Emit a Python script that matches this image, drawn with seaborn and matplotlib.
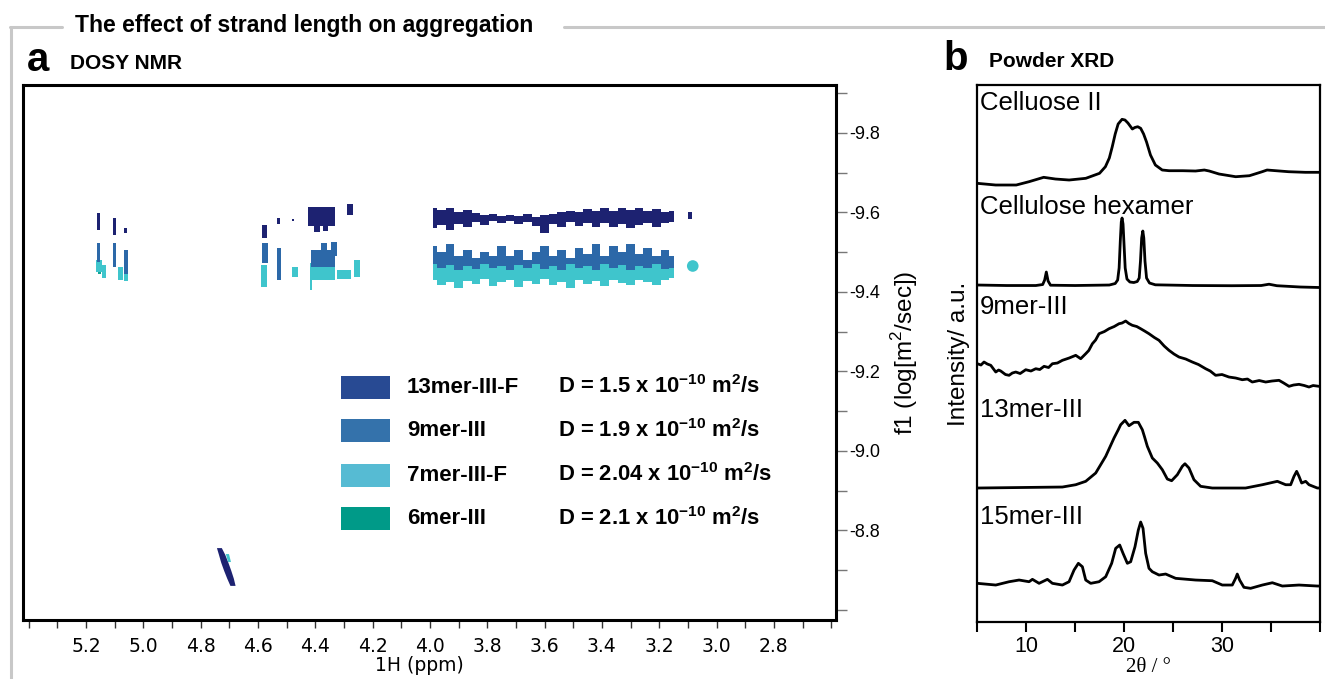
import numpy as np
import pandas as pd
import seaborn as sns
import matplotlib.pyplot as plt
from matplotlib.lines import Line2D
from matplotlib.patches import Rectangle

sns.set_style('white')
plt.rcParams['font.family'] = ['Liberation Sans', 'DejaVu Sans']
plt.rcParams['mathtext.fontset'] = 'custom'
plt.rcParams['mathtext.rm'] = 'Liberation Sans'
plt.rcParams['mathtext.bf'] = 'Liberation Sans:bold'
plt.rcParams['text.color'] = 'black'
plt.rcParams['axes.labelcolor'] = 'black'
plt.rcParams['xtick.color'] = 'black'
plt.rcParams['ytick.color'] = 'black'

# ---------------- DOSY data (ppm, log D) ----------------
compounds = ['13mer-III-F', '9mer-III', '7mer-III-F', '6mer-III']
d_labels = ['D = 1.5 x 10$^{\\mathbf{-10}}$ m$^{\\mathbf{2}}$/s',
            'D = 1.9 x 10$^{\\mathbf{-10}}$ m$^{\\mathbf{2}}$/s',
            'D = 2.04 x 10$^{\\mathbf{-10}}$ m$^{\\mathbf{2}}$/s',
            'D = 2.1 x 10$^{\\mathbf{-10}}$ m$^{\\mathbf{2}}$/s']

# small spots: (ppm left, ppm right, logD top, logD bottom)
spots_13 = [(5.162, 5.150, -9.598, -9.556), (5.106, 5.094, -9.585, -9.543),
            (5.067, 5.057, -9.561, -9.548), (4.586, 4.569, -9.568, -9.535),
            (4.535, 4.523, -9.586, -9.571), (4.482, 4.476, -9.583, -9.577),
            (4.426, 4.331, -9.614, -9.565), (4.405, 4.385, -9.570, -9.550),
            (4.372, 4.355, -9.570, -9.552), (4.288, 4.268, -9.620, -9.594),
            (3.100, 3.085, -9.600, -9.583)]
spots_9 = [(5.162, 5.150, -9.523, -9.475), (5.106, 5.094, -9.523, -9.462),
           (5.067, 5.055, -9.505, -9.445), (4.586, 4.566, -9.523, -9.473),
           (4.535, 4.521, -9.510, -9.430), (4.415, 4.330, -9.505, -9.462),
           (4.380, 4.360, -9.523, -9.500), (4.345, 4.325, -9.525, -9.490)]
spots_7 = [(5.165, 5.145, -9.480, -9.450), (5.145, 5.130, -9.468, -9.435),
           (5.090, 5.072, -9.462, -9.430), (5.067, 5.055, -9.473, -9.428),
           (4.590, 4.569, -9.468, -9.412), (4.535, 4.521, -9.482, -9.432),
           (4.480, 4.460, -9.462, -9.437), (4.420, 4.330, -9.473, -9.430),
           (4.325, 4.276, -9.455, -9.433), (4.265, 4.245, -9.480, -9.437),
           (4.420, 4.410, -9.430, -9.405)]
spots_6 = [(5.160, 5.148, -9.458, -9.446), (4.312, 4.290, -9.450, -9.440)]

# main band 4.0 - 3.1 ppm
band_ppm = [3.99, 3.96, 3.93, 3.90, 3.87, 3.84, 3.81, 3.78, 3.75, 3.72, 3.69, 3.66,
            3.63, 3.60, 3.57, 3.54, 3.51, 3.48, 3.45, 3.42, 3.39, 3.36, 3.33, 3.30,
            3.27, 3.24, 3.21, 3.18, 3.15]
top_13 = [-9.612, -9.605, -9.610, -9.600, -9.606, -9.598, -9.592, -9.596, -9.590, -9.594,
          -9.590, -9.596, -9.588, -9.592, -9.596, -9.600, -9.604, -9.600, -9.608, -9.602,
          -9.610, -9.604, -9.612, -9.606, -9.610, -9.603, -9.608, -9.600, -9.604]
bot_13 = [-9.560, -9.568, -9.556, -9.570, -9.562, -9.575, -9.568, -9.578, -9.572, -9.578,
          -9.570, -9.576, -9.566, -9.548, -9.570, -9.562, -9.575, -9.566, -9.572, -9.562,
          -9.574, -9.564, -9.570, -9.560, -9.568, -9.572, -9.562, -9.572, -9.575]
top_9 = [-9.515, -9.500, -9.520, -9.490, -9.505, -9.485, -9.500, -9.490, -9.515, -9.490,
         -9.505, -9.480, -9.500, -9.515, -9.490, -9.505, -9.485, -9.510, -9.495, -9.520,
         -9.490, -9.515, -9.500, -9.520, -9.495, -9.510, -9.490, -9.505, -9.490]
bot_9 = [-9.470, -9.460, -9.468, -9.455, -9.465, -9.458, -9.470, -9.460, -9.466, -9.455,
         -9.468, -9.460, -9.470, -9.458, -9.466, -9.455, -9.470, -9.460, -9.465, -9.455,
         -9.470, -9.460, -9.468, -9.455, -9.465, -9.460, -9.470, -9.458, -9.460]
top_7 = [-9.478, -9.470, -9.482, -9.468, -9.476, -9.470, -9.480, -9.466, -9.478, -9.470,
         -9.482, -9.468, -9.476, -9.470, -9.480, -9.466, -9.478, -9.470, -9.482, -9.468,
         -9.476, -9.470, -9.480, -9.466, -9.478, -9.470, -9.482, -9.468, -9.474]
bot_7 = [-9.430, -9.418, -9.425, -9.410, -9.428, -9.420, -9.432, -9.415, -9.425, -9.430,
         -9.412, -9.428, -9.420, -9.432, -9.418, -9.426, -9.410, -9.430, -9.420, -9.428,
         -9.415, -9.430, -9.422, -9.418, -9.430, -9.424, -9.416, -9.430, -9.435]
dot_7 = (3.083, -9.465)

# water signal near 4.7 ppm
water_D = [-8.757, -8.740, -8.720, -8.700, -8.680, -8.662]
water_left = [4.745, 4.738, 4.730, 4.720, 4.709, 4.698]
water_right = [4.728, 4.716, 4.705, 4.695, 4.686, 4.680]
water7_D = [-8.742, -8.722]
water7_left = [4.714, 4.706]
water7_right = [4.703, 4.696]

spot_colors = {'13mer-III-F': '#1d2271', '9mer-III': '#2c68a8',
               '7mer-III-F': '#3fc5cc', '6mer-III': '#12a394'}
legend_colors = ['#284a93', '#3472ab', '#56bbd3', '#009a88']

# ---------------- XRD data (2theta, intensity above own baseline) ----------------
xrd_names = ['Celluose II', 'Cellulose hexamer', '9mer-III', '13mer-III', '15mer-III']

cel2_t = [5.0, 6.9, 9.0, 10.3, 11.8, 13.0, 14.4, 16.1, 17.5, 18.1, 18.5, 18.8, 19.1, 19.4,
          19.8, 20.1, 20.4, 20.85, 21.1, 21.4, 21.7, 22.0, 22.3, 22.7, 23.2, 23.9, 24.6,
          26.0, 27.3, 28.2, 28.7, 29.7, 31.4, 32.8, 34.1, 34.6, 35.5, 36.8, 38.5, 40.0]
cel2_i = [1.7, 0, 0, 3.3, 7.7, 6, 5, 6.7, 11.7, 18.3, 27, 38.3, 51, 61, 65.7, 65, 62,
          56, 57.5, 58.3, 56.7, 51, 43, 30, 20, 15, 14.3, 14.3, 14, 15, 14, 11, 8.3, 9.3,
          13.3, 15, 14.3, 13.3, 12.7, 12.7]

hex_t = [5.0, 8.0, 11.0, 11.7, 11.9, 12.07, 12.25, 12.5, 15.0, 18.5, 19.1, 19.35, 19.5,
         19.62, 19.72, 19.8, 19.9, 20.0, 20.12, 20.3, 20.6, 21.0, 21.35, 21.55, 21.68, 21.8,
         21.92, 22.02, 22.14, 22.3, 22.6, 23.2, 27.0, 31.0, 34.0, 34.8, 35.6, 38.0, 40.0]
hex_i = [1, 0.5, 0.5, 1.5, 6, 14, 5, 0.8, 0.5, 1, 2.5, 6, 18, 45, 64, 68, 62, 42, 18, 7,
         4, 3.5, 4.5, 8, 25, 48, 55, 48, 25, 8, 3, 1.2, 0.5, 0.3, 0.5, 1.8, 0.3, -1, -1.5]

n9_t = [5.03, 5.4, 5.71, 6.05, 6.4, 6.91, 7.2, 7.42, 7.9, 8.27, 8.6, 8.95, 9.4, 9.97, 10.5,
        10.99, 11.4, 11.84, 12.3, 12.69, 13.2, 13.71, 14.4, 15.07, 15.58, 16.09, 16.4, 16.77,
        17.1, 17.45, 18.0, 18.47, 19.0, 19.49, 19.8, 20.17, 20.5, 20.85, 21.3, 21.7, 22.1,
        22.55, 23.1, 23.57, 24.1, 24.59, 25.1, 25.61, 26.3, 26.97, 27.6, 28.33, 28.8, 29.35,
        30.0, 30.71, 31.4, 32.07, 32.6, 33.09, 33.8, 34.46, 35.1, 35.82, 36.3, 36.84, 37.3,
        37.86, 38.4, 38.88, 39.3, 39.9]
n9_i = [23.3, 22, 25, 23, 21.7, 15, 17, 16, 12.5, 11.7, 14, 15, 13.5, 17.3, 16, 18.3, 17.5,
        20.7, 19.5, 23.3, 24, 26.7, 29, 31.7, 28.3, 33.3, 36.5, 43.3, 47, 53.3, 55.5, 58.3,
        60.5, 63.3, 64, 66, 63.5, 61.7, 60.5, 58.3, 56, 53.3, 49.5, 46.7, 41, 36.7, 33, 30,
        28, 25, 22.5, 18.3, 16, 11.7, 12.5, 10, 9, 7.3, 8, 5, 6.5, 5, 6, 6.7, 4, 0.7, 2,
        2.7, 1.5, 0, 1.5, 0.7]

n13_t = [5.0, 13.71, 15.07, 16.09, 17.11, 18.13, 18.98, 19.4, 19.66, 20.1, 20.51, 21.02,
         21.46, 21.87, 22.1, 22.38, 22.89, 23.4, 23.91, 24.42, 24.86, 25.44, 25.95, 26.22,
         26.63, 27.14, 27.82, 29.01, 32.41, 34.12, 35.65, 36.5, 37.01, 37.35, 37.62, 37.86,
         38.13, 38.54, 38.88, 39.73, 40.0]
n13_i = [0, 1, 3.3, 6.7, 15, 31.7, 50, 58, 63.3, 67.7, 62.3, 65.7, 65.7, 58.3, 51, 41.7,
         30, 25, 18.3, 9, 7.3, 13.3, 21.7, 24.3, 20, 8.3, 1.7, 0, 0, 3.3, 6.7, 3.3, 3.3,
         11.7, 16.7, 11.7, 5, 6.7, 3.3, 0, 0]

n15_t = [5.03, 6.91, 8.27, 9.29, 10.31, 10.65, 11.33, 12.18, 12.69, 13.71, 14.39, 14.9,
         15.34, 15.75, 16.09, 16.6, 17.45, 18.13, 18.74, 19.15, 19.56, 19.9, 20.34, 20.68,
         21.12, 21.46, 21.7, 21.94, 22.21, 22.55, 22.89, 23.57, 24.25, 25.27, 27.31, 29.01,
         30.03, 31.05, 31.39, 31.56, 31.8, 32.24, 32.92, 34.12, 35.14, 36.16, 37.86, 39.73,
         40.0]
n15_i = [1.7, 0, 3.3, 5, 3.3, 5.7, 1.7, 5.7, 1.7, 0, 3.3, 15, 21.7, 18.3, 5, 1.7, 3.3, 8.3,
         21.7, 36.7, 40, 31.7, 21.7, 23.3, 38.3, 55, 63, 56.7, 31.7, 16.7, 13.3, 10, 11,
         6.7, 5, 4.3, 0, 0, 6.7, 11, 5, -2.3, -3.3, 0, 2.3, -1, 0, -1, -1]

xrd_t = [cel2_t, hex_t, n9_t, n13_t, n15_t]
xrd_i = [cel2_i, hex_i, n9_i, n13_i, n15_i]

# ---------------- figure ----------------
fig = plt.figure(figsize=(13.25, 6.79), dpi=100)
axA = fig.add_axes([0.01736, 0.0869, 0.6134, 0.7879])
axB = fig.add_axes([0.7374, 0.0839, 0.2588, 0.7909])

# grey frame round the figure and title
gray = '#c8c8c8'
fig.add_artist(Line2D([0.0075, 0.047], [0.9602, 0.9602], color=gray, lw=2.2, transform=fig.transFigure))
fig.add_artist(Line2D([0.426, 1.0], [0.9602, 0.9602], color=gray, lw=2.2, transform=fig.transFigure))
fig.add_artist(Line2D([0.0083, 0.0083], [0.0, 0.9602], color=gray, lw=2.2, transform=fig.transFigure))
fig.text(0.0566, 0.963, 'The effect of strand length on aggregation', fontsize=16.5,
         fontweight='bold', va='center', ha='left')
fig.text(0.0205, 0.895, 'a', fontsize=29, fontweight='bold', va='baseline')
fig.text(0.0528, 0.899, 'DOSY NMR', fontsize=15, fontweight='bold', va='baseline')
fig.text(0.7117, 0.897, 'b', fontsize=29, fontweight='bold', va='baseline')
fig.text(0.7462, 0.901, 'Powder XRD', fontsize=15, fontweight='bold', va='baseline')

# ---- panel a: DOSY ----
spot_sets = {'6mer-III': spots_6, '7mer-III-F': spots_7, '9mer-III': spots_9, '13mer-III-F': spots_13}
bands = {'7mer-III-F': (top_7, bot_7), '9mer-III': (top_9, bot_9), '13mer-III-F': (top_13, bot_13)}
for name in ['6mer-III', '7mer-III-F', '9mer-III', '13mer-III-F']:
    c = spot_colors[name]
    for l, r, t, b in spot_sets[name]:
        axA.fill_between([l, r], [t, t], [b, b], color=c, lw=0)
    if name in bands:
        t, b = bands[name]
        axA.fill_between(band_ppm, t, b, step='mid', color=c, lw=0)
    if name == '7mer-III-F':
        sns.scatterplot(x=[dot_7[0]], y=[dot_7[1]], ax=axA, color=c, s=70, edgecolor='none')
axA.fill_betweenx(water_D, water_left, water_right, color=spot_colors['13mer-III-F'], lw=0)
axA.fill_betweenx(water7_D, water7_left, water7_right, color=spot_colors['7mer-III-F'], lw=0)

axA.set_xlim(5.42, 2.584)
axA.set_ylim(-8.575, -9.92)
major_x = [5.2, 5.0, 4.8, 4.6, 4.4, 4.2, 4.0, 3.8, 3.6, 3.4, 3.2, 3.0, 2.8]
axA.set_xticks(major_x)
axA.set_xticklabels([f'{v:.1f}' for v in major_x], fontfamily='DejaVu Sans', fontsize=13.5)
axA.set_xticks([5.4, 5.3, 5.1, 4.9, 4.7, 4.5, 4.3, 4.1, 3.9, 3.7, 3.5, 3.3, 3.1, 2.9, 2.7, 2.6], minor=True)
axA.set_xlabel('1H (ppm)', fontfamily='DejaVu Sans', fontsize=13.5, labelpad=1)
axA.xaxis.set_label_coords(0.488, -0.068)
axA.yaxis.tick_right()
axA.yaxis.set_label_position('right')
major_y = [-9.8, -9.6, -9.4, -9.2, -9.0, -8.8]
axA.set_yticks(major_y)
axA.set_yticklabels([f'{v:.1f}' for v in major_y], fontsize=13)
axA.set_yticks([-9.9, -9.7, -9.5, -9.3, -9.1, -8.9, -8.7, -8.6], minor=True)
axA.set_ylabel('f1 (log[m$^2$/sec])', fontsize=17.5, labelpad=6)
axA.tick_params(axis='x', which='both', direction='out', length=6, width=1, color='#333333', pad=6,
                bottom=True)
axA.tick_params(axis='y', which='both', direction='out', length=8, width=1, color='#777777', pad=2,
                right=True, left=False)
for s in axA.spines.values():
    s.set_linewidth(2.2)
    s.set_color('black')

# legend drawn inside the axes
rows_y = [0.4355, 0.3533, 0.2710, 0.1888]
for name, dl, col, yy in zip(compounds, d_labels, legend_colors, rows_y):
    axA.add_patch(Rectangle((0.391, yy - 0.0215), 0.0603, 0.043, transform=axA.transAxes,
                            color=col, lw=0))
    axA.text(0.4723, yy, name, transform=axA.transAxes, fontsize=16, fontweight='bold',
             va='center', ha='left')
    axA.text(0.658, yy, dl, transform=axA.transAxes, fontsize=15.8, fontweight='bold',
             va='center', ha='left')

# ---- panel b: XRD ----
baselines = [437, 336, 235, 134, 37]
label_y = [519, 415, 315, 212, 105]
for name, t, i, base, ly in zip(xrd_names, xrd_t, xrd_i, baselines, label_y):
    df = pd.DataFrame({'two_theta': t, 'intensity': np.array(i) + base})
    sns.lineplot(data=df, x='two_theta', y='intensity', ax=axB, color='black', lw=2, sort=False)
    axB.text(5.3, ly, name, fontsize=18.5, va='center', ha='left')

axB.set_xlim(5, 40)
axB.set_ylim(0, 537)
axB.set_yticks([])
axB.set_xticks([10, 20, 30])
axB.set_xticklabels(['10', '20', '30'], fontsize=15.5)
axB.set_xticks([5, 15, 25, 35, 40], minor=True)
axB.tick_params(axis='x', which='both', direction='out', length=7, width=1.5, color='black',
                pad=3, bottom=True)
axB.set_xlabel('2θ / °', fontfamily=['Liberation Serif', 'DejaVu Serif'], fontsize=15, labelpad=1)
axB.set_ylabel('Intensity/ a.u.', fontsize=17.5, labelpad=5)
for s in axB.spines.values():
    s.set_linewidth(1.6)
    s.set_color('black')

fig.savefig('out.png', dpi=100)
